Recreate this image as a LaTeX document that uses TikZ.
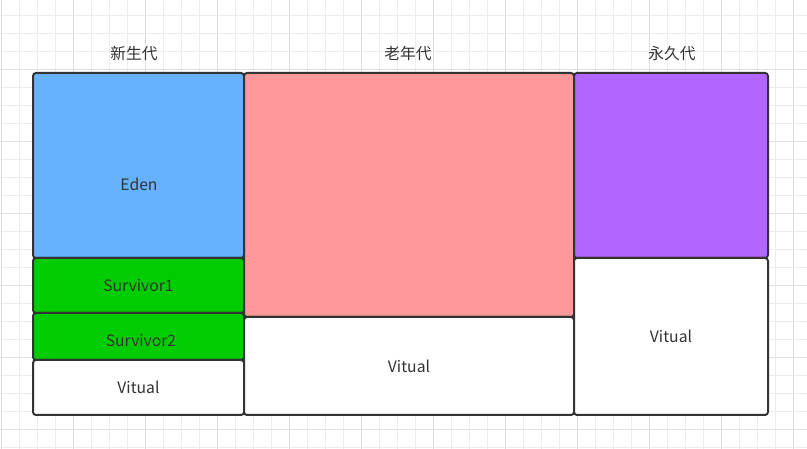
\documentclass[tikz,border=0pt]{standalone}
\usepackage{fontspec}
\setmainfont{Noto Sans CJK SC}
\definecolor{boxline}{HTML}{333333}
\definecolor{txt}{HTML}{333333}
\definecolor{edenfill}{HTML}{66B2FF}
\definecolor{oldfill}{HTML}{FF9999}
\definecolor{permfill}{HTML}{B266FF}
\definecolor{survfill}{HTML}{00CC00}
\definecolor{gridminor}{HTML}{EDEDED}
\definecolor{gridmajor}{HTML}{E0E0E0}
\begin{document}
\begin{tikzpicture}[x=1pt,y=-1pt,
  box/.style={draw=boxline, line width=2pt, rounded corners=3pt, inner sep=0pt, outer sep=0pt,
    anchor=north west, text=txt, font=\fontsize{15.7}{18}\selectfont},
  lbl/.style={text=txt, inner sep=0pt, font=\fontsize{15.7}{18}\selectfont}]
\useasboundingbox[fill=white] (0,0) rectangle (807,449);
% grid
\foreach \i in {0,...,44}{
  \pgfmathparse{mod(\i,4)==0 ? 1 : 0}
  \ifnum\pgfmathresult=1
    \draw[gridmajor, line width=1pt] (1.3+18*\i,0) -- (1.3+18*\i,449);
  \else
    \draw[gridminor, line width=1pt] (1.3+18*\i,0) -- (1.3+18*\i,449);
  \fi
}
\foreach \i in {1,...,25}{
  \pgfmathparse{mod(\i,4)==0 ? 1 : 0}
  \ifnum\pgfmathresult=1
    \draw[gridmajor, line width=1pt] (0,-2.7+18*\i) -- (807,-2.7+18*\i);
  \else
    \draw[gridminor, line width=1pt] (0,-2.7+18*\i) -- (807,-2.7+18*\i);
  \fi
}
% column titles
\node[lbl] (tyoung) at (134,54) {新生代};
\node[lbl] (told) at (408,54) {老年代};
\node[lbl] (tperm) at (672,54) {永久代};
% young generation
\node[box, fill=edenfill, minimum width=211pt, minimum height=185pt] (eden) at (33,73) {};
\node[lbl] (edenlbl) at (139,184) {Eden};
\node[box, fill=survfill, minimum width=211pt, minimum height=55pt] (s1) at (33,258) {Survivor1};
\node[box, fill=survfill, minimum width=211pt, minimum height=47pt] (s2) at (33,313) {};
\node[lbl] (s2lbl) at (141,341) {Survivor2};
\node[box, fill=white, minimum width=211pt, minimum height=55pt] (yv) at (33,360) {Vitual};
% old generation
\node[box, fill=oldfill, minimum width=330pt, minimum height=244pt] (old) at (244,73) {};
\node[box, fill=white, minimum width=330pt, minimum height=98pt] (ov) at (244,317) {Vitual};
% permanent generation
\node[box, fill=permfill, minimum width=194pt, minimum height=185pt] (perm) at (574,73) {};
\node[box, fill=white, minimum width=194pt, minimum height=157pt] (pv) at (574,258) {Vitual};
\end{tikzpicture}
\end{document}
